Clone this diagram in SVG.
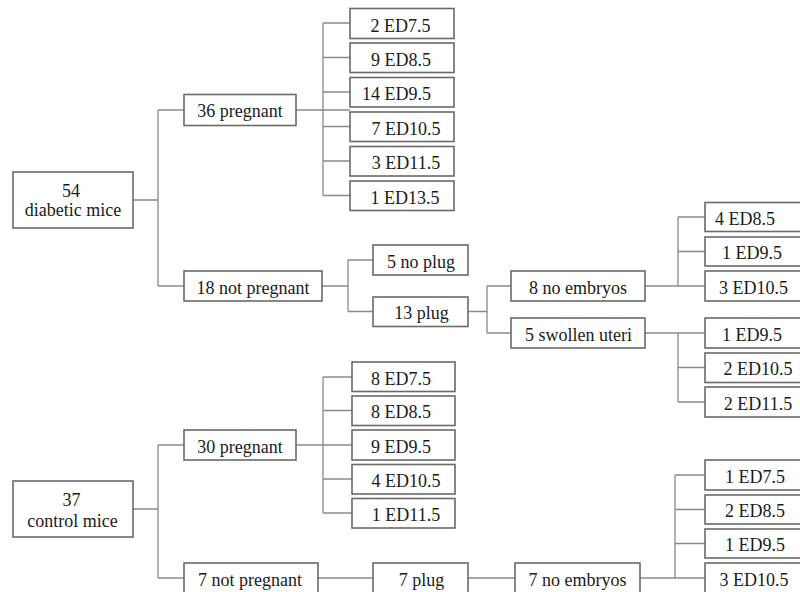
<svg xmlns="http://www.w3.org/2000/svg" width="800" height="592" viewBox="0 0 800 592">
<style>
.b{fill:#fff;stroke:#6a6a6a;stroke-width:1.6}
.t{font-size:18px;fill:#1a1a1a;text-anchor:middle}
.c{fill:none;stroke:#8a8a8a;stroke-width:1.3}
</style>
<rect width="800" height="592" fill="#fff"/>
<g id="connectors" class="c">
<path d="M133,200H158M158,110V286M158,110H184M158,286H184"/>
<path d="M296,110H350M323,23V195.5M323,23H350M323,57.5H350M323,92H350M323,126.5H350M323,161H350M323,195.5H350"/>
<path d="M322,286H348M348,260V311.5M348,260H373M348,311.5H373"/>
<path d="M468,311.5H487M487,286V333M487,286H511M487,333H511"/>
<path d="M645,286H705M678,217V286M678,217H705M678,251.5H705"/>
<path d="M645,333H705M678,333V402M678,367.5H705M678,402H705"/>
<path d="M133,509H158M158,445V578M158,445H184M158,578H184"/>
<path d="M296,445H352M323,377V513M323,377H352M323,410.5H352M323,479H352M323,513H352"/>
<path d="M318,578H373M468,578H515M640,578H705M675,475V578M675,475H705M675,509.5H705M675,543.5H705"/>
</g>
<g font-family="Liberation Serif, DejaVu Serif, serif">
<g id="n-diabetic"><rect class="b" x="13" y="172" width="120" height="56"/><text class="t" x="71" y="197">54</text><text class="t" x="73" y="216">diabetic mice</text></g>
<g id="n-d-preg"><rect class="b" x="184" y="94.5" width="112" height="31"/><text class="t" x="240" y="117">36 pregnant</text></g>
<g id="n-d-e1"><rect class="b" x="350" y="8.5" width="104" height="30"/><text class="t" x="400.5" y="31.5">2 ED7.5</text></g>
<g id="n-d-e2"><rect class="b" x="350" y="43" width="104" height="29.5"/><text class="t" x="401" y="65.5">9 ED8.5</text></g>
<g id="n-d-e3"><rect class="b" x="350" y="77.5" width="104" height="29.5"/><text class="t" x="396.5" y="100">14 ED9.5</text></g>
<g id="n-d-e4"><rect class="b" x="350" y="112" width="104" height="29.5"/><text class="t" x="406" y="134.5">7 ED10.5</text></g>
<g id="n-d-e5"><rect class="b" x="350" y="146.5" width="104" height="29.5"/><text class="t" x="406" y="169">3 ED11.5</text></g>
<g id="n-d-e6"><rect class="b" x="350" y="181" width="104" height="29.5"/><text class="t" x="405" y="203.5">1 ED13.5</text></g>
<g id="n-d-notpreg"><rect class="b" x="184" y="271" width="138" height="30"/><text class="t" x="253" y="293.5">18 not pregnant</text></g>
<g id="n-d-noplug"><rect class="b" x="373" y="245" width="95" height="30"/><text class="t" x="421" y="267.5">5 no plug</text></g>
<g id="n-d-plug"><rect class="b" x="373" y="297" width="95" height="29.5"/><text class="t" x="421.5" y="319">13 plug</text></g>
<g id="n-d-noemb"><rect class="b" x="511" y="271" width="134" height="30"/><text class="t" x="578" y="293.5">8 no embryos</text></g>
<g id="n-d-swollen"><rect class="b" x="511" y="318" width="134" height="30"/><text class="t" x="578.5" y="340.5">5 swollen uteri</text></g>
<g id="n-d-r1"><rect class="b" x="705" y="202.5" width="100" height="29"/><text class="t" x="745" y="224.5">4 ED8.5</text></g>
<g id="n-d-r2"><rect class="b" x="705" y="237" width="100" height="29"/><text class="t" x="752" y="259">1 ED9.5</text></g>
<g id="n-d-r3"><rect class="b" x="705" y="271" width="100" height="30"/><text class="t" x="753.5" y="293.5">3 ED10.5</text></g>
<g id="n-d-r4"><rect class="b" x="705" y="318" width="100" height="30"/><text class="t" x="752" y="340.5">1 ED9.5</text></g>
<g id="n-d-r5"><rect class="b" x="705" y="353" width="100" height="29.5"/><text class="t" x="758" y="375">2 ED10.5</text></g>
<g id="n-d-r6"><rect class="b" x="705" y="387" width="100" height="30"/><text class="t" x="758" y="409.5">2 ED11.5</text></g>
<g id="n-control"><rect class="b" x="13" y="481" width="120" height="56"/><text class="t" x="71.5" y="506">37</text><text class="t" x="72.5" y="527">control mice</text></g>
<g id="n-c-preg"><rect class="b" x="184" y="430" width="112" height="30"/><text class="t" x="240" y="452.5">30 pregnant</text></g>
<g id="n-c-e1"><rect class="b" x="352" y="362" width="103" height="29.5"/><text class="t" x="401" y="384.5">8 ED7.5</text></g>
<g id="n-c-e2"><rect class="b" x="352" y="396" width="103" height="29.5"/><text class="t" x="401" y="418">8 ED8.5</text></g>
<g id="n-c-e3"><rect class="b" x="352" y="430" width="103" height="30"/><text class="t" x="401" y="452.5">9 ED9.5</text></g>
<g id="n-c-e4"><rect class="b" x="352" y="464.5" width="103" height="29.5"/><text class="t" x="406" y="486.5">4 ED10.5</text></g>
<g id="n-c-e5"><rect class="b" x="352" y="498.5" width="103" height="29.5"/><text class="t" x="406" y="520.5">1 ED11.5</text></g>
<g id="n-c-notpreg"><rect class="b" x="184" y="563" width="134" height="31"/><text class="t" x="250" y="585.5">7 not pregnant</text></g>
<g id="n-c-plug"><rect class="b" x="373" y="563" width="95" height="31"/><text class="t" x="421.5" y="585.5">7 plug</text></g>
<g id="n-c-noemb"><rect class="b" x="515" y="563" width="125" height="31"/><text class="t" x="577.5" y="585.5">7 no embryos</text></g>
<g id="n-c-r1"><rect class="b" x="705" y="460" width="100" height="30"/><text class="t" x="755" y="482.5">1 ED7.5</text></g>
<g id="n-c-r2"><rect class="b" x="705" y="495" width="100" height="29"/><text class="t" x="755" y="517">2 ED8.5</text></g>
<g id="n-c-r3"><rect class="b" x="705" y="529" width="100" height="29"/><text class="t" x="755" y="551">1 ED9.5</text></g>
<g id="n-c-r4"><rect class="b" x="705" y="563" width="100" height="31"/><text class="t" x="754" y="585.5">3 ED10.5</text></g>
</g>
</svg>
